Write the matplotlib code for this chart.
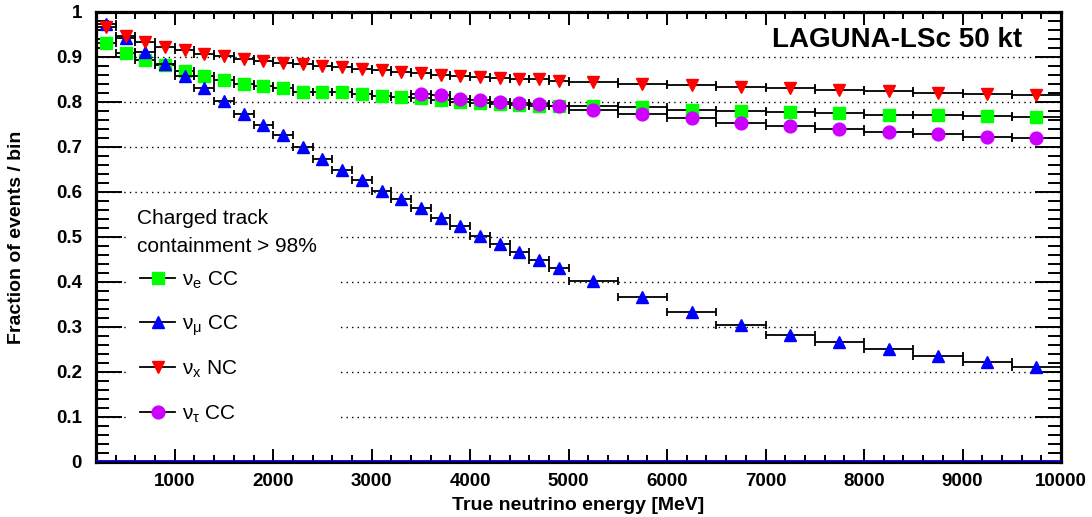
import numpy as np
import matplotlib
matplotlib.use("Agg")
import matplotlib.pyplot as plt
from matplotlib.patches import Rectangle
from matplotlib.ticker import MultipleLocator, FuncFormatter

plt.rcParams['font.family'] = ['Liberation Sans', 'DejaVu Sans']
plt.rcParams['mathtext.default'] = 'regular'

# bin centres [MeV] and half widths
energy = [300, 500, 700, 900, 1100, 1300, 1500, 1700, 1900, 2100, 2300, 2500,
          2700, 2900, 3100, 3300, 3500, 3700, 3900, 4100, 4300, 4500, 4700, 4900,
          5250, 5750, 6250, 6750, 7250, 7750, 8250, 8750, 9250, 9750]
half_width = [100, 100, 100, 100, 100, 100, 100, 100, 100, 100, 100, 100,
              100, 100, 100, 100, 100, 100, 100, 100, 100, 100, 100, 100,
              250, 250, 250, 250, 250, 250, 250, 250, 250, 250]

frac_nue = [0.932, 0.909, 0.893, 0.882, 0.868, 0.858, 0.848, 0.841, 0.835, 0.831, 0.822, 0.823,
            0.822, 0.818, 0.814, 0.812, 0.808, 0.805, 0.799, 0.797, 0.795, 0.793, 0.792, 0.791,
            0.791, 0.788, 0.783, 0.779, 0.777, 0.775, 0.772, 0.771, 0.769, 0.767]
frac_numu = [0.973, 0.942, 0.911, 0.884, 0.858, 0.830, 0.803, 0.774, 0.749, 0.727, 0.700, 0.674,
             0.648, 0.627, 0.603, 0.585, 0.564, 0.543, 0.524, 0.503, 0.485, 0.467, 0.449, 0.431,
             0.403, 0.367, 0.333, 0.304, 0.283, 0.267, 0.250, 0.235, 0.222, 0.211]
frac_nux = [0.967, 0.947, 0.933, 0.923, 0.916, 0.907, 0.902, 0.896, 0.891, 0.887, 0.885, 0.879,
            0.878, 0.873, 0.870, 0.866, 0.864, 0.861, 0.858, 0.856, 0.854, 0.852, 0.850, 0.847,
            0.845, 0.841, 0.837, 0.833, 0.830, 0.826, 0.824, 0.820, 0.818, 0.815]
# nu_tau CC only above threshold (from 3500 MeV bin)
tau_start = 16
frac_nutau = [0.817, 0.816, 0.807, 0.804, 0.799, 0.798, 0.795, 0.790,
              0.782, 0.773, 0.764, 0.754, 0.746, 0.739, 0.733, 0.729, 0.723, 0.719]

labels = ['ν$_{e}$ CC', 'ν$_{μ}$ CC', 'ν$_{x}$ NC', 'ν$_{τ}$ CC']
colors = ['#00ff00', '#0000ff', '#ff0000', '#cc00ff']
markers = ['s', '^', 'v', 'o']
msizes = [8.2, 9.2, 9.2, 9.2]

fig = plt.figure(figsize=(10.92, 5.17), dpi=100)
ax = fig.add_axes([0.0879, 0.1064, 0.8837, 0.8704])

series = [(energy, half_width, frac_nue),
          (energy, half_width, frac_numu),
          (energy, half_width, frac_nux),
          (energy[tau_start:], half_width[tau_start:], frac_nutau)]

for i, (x, dx, y) in enumerate(series):
    ax.errorbar(x, y, xerr=dx, fmt=markers[i], ms=msizes[i], mfc=colors[i], mec=colors[i],
                ecolor='black', elinewidth=1.3, capsize=3, capthick=1.3, zorder=3 + i)

# zero line along the bottom
ax.axhline(0.003, color='#0000cc', lw=1.3, zorder=3)

ax.set_xlim(200, 10000)
ax.set_ylim(0, 1)

ax.yaxis.grid(True, which='major', color='black', linestyle=(0, (1, 3)), lw=1.0)
ax.set_axisbelow(True)

ax.xaxis.set_major_locator(MultipleLocator(1000))
ax.xaxis.set_minor_locator(MultipleLocator(200))
ax.yaxis.set_major_locator(MultipleLocator(0.1))
ax.yaxis.set_minor_locator(MultipleLocator(0.02))
ax.yaxis.set_major_formatter(FuncFormatter(lambda v, p: f'{v:g}'))

ax.tick_params(which='both', direction='in', top=True, right=True, width=1.4, colors='black')
ax.tick_params(axis='x', which='major', length=9.5, pad=8, labelsize=13.5)
ax.tick_params(axis='x', which='minor', length=4.7)
ax.tick_params(axis='y', which='major', length=19, pad=10, labelsize=13.5)
ax.tick_params(axis='y', which='minor', length=9.5)
for lab in ax.get_xticklabels() + ax.get_yticklabels():
    lab.set_fontweight('bold')

for s in ax.spines.values():
    s.set_linewidth(2.3)

ax.set_xlabel('True neutrino energy [MeV]', fontsize=14, fontweight='bold', labelpad=5)
ax.set_ylabel('Fraction of events / bin', fontsize=14, fontweight='bold', labelpad=22)

ax.text(0.96, 0.938, 'LAGUNA-LSc 50 kt', transform=ax.transAxes, ha='right', va='center',
        fontsize=20, fontweight='bold')

# legend box (white, hides the grid), header and one row per sample
ax.add_patch(Rectangle((0.033, 0.05), 0.218, 0.53, transform=ax.transAxes,
                       facecolor='white', edgecolor='none', zorder=2))
ax.text(0.0425, 0.51, 'Charged track\ncontainment > 98%', transform=ax.transAxes,
        ha='left', va='center', fontsize=15, linespacing=1.55, zorder=11)
row_y = [0.409, 0.311, 0.211, 0.111]
for i in range(4):
    ax.plot([0.0456, 0.0819], [row_y[i], row_y[i]], color='black', lw=1.3,
            transform=ax.transAxes, zorder=11)
    ax.plot([0.0642], [row_y[i]], marker=markers[i], ms=msizes[i], mfc=colors[i],
            mec=colors[i], transform=ax.transAxes, zorder=12)
    ax.text(0.0891, row_y[i] - 0.017, labels[i], transform=ax.transAxes,
            ha='left', va='baseline', fontsize=15, zorder=11)

fig.savefig('out.png', dpi=100)
